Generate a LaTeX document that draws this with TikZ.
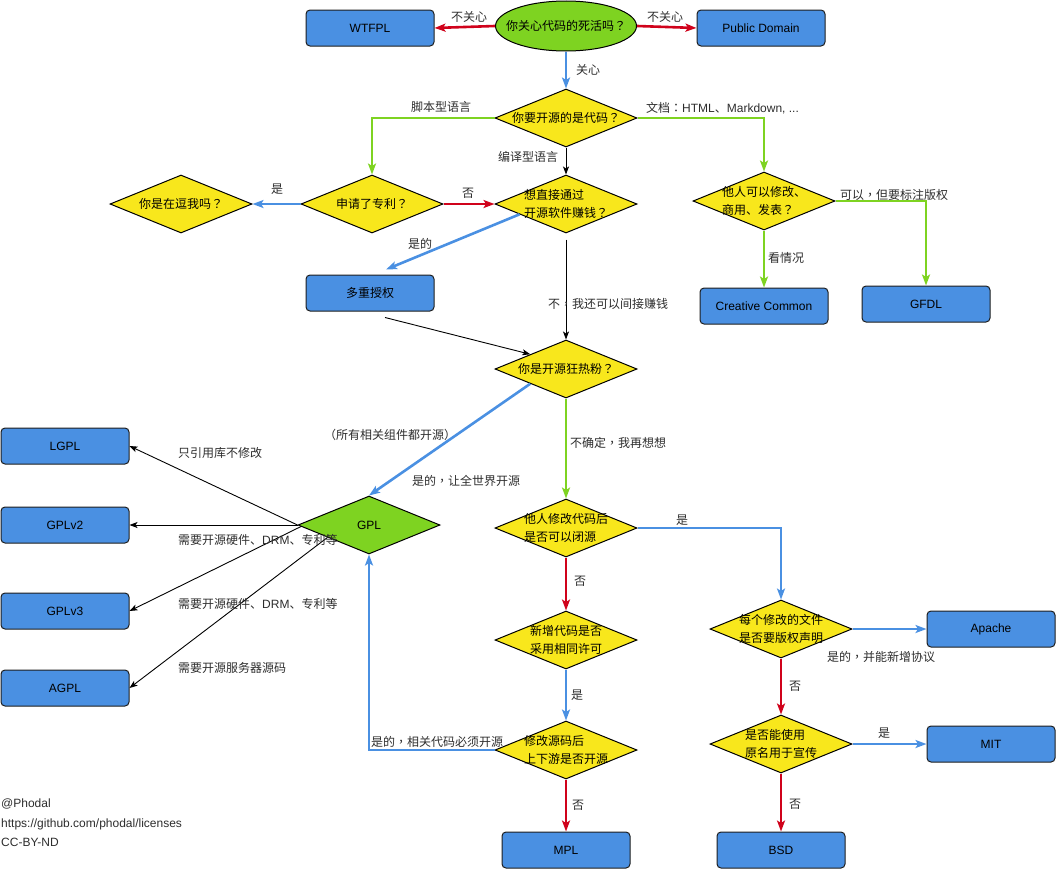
\documentclass[tikz,border=0pt]{standalone}
\usepackage{fontspec}
\setmainfont{Liberation Sans}
\newfontfamily\cjk{Noto Sans CJK SC}
\newfontfamily\cjktc{Noto Sans CJK TC}
\newcommand\qm{{\cjktc ？}}
\newcommand\cm{{\cjktc ，}}
\newcommand\cl{{\cjktc ：}}
\usetikzlibrary{shapes.geometric,arrows.meta,calc}
\definecolor{boxblue}{RGB}{74,144,226}
\definecolor{boxline}{RGB}{30,30,30}
\definecolor{dyel}{RGB}{248,231,28}
\definecolor{dgreen}{RGB}{126,211,33}
\definecolor{cred}{RGB}{208,2,27}
\definecolor{cblue}{RGB}{74,144,226}
\definecolor{lblc}{RGB}{45,45,45}
\newcommand\ztext[1]{\makebox[0pt]{\smash{\raisebox{-4pt}{\begin{tabular}{@{}l@{}}#1\end{tabular}}}}}
\begin{document}
\begin{tikzpicture}[x=1pt,y=-1pt,
 box/.style={draw=boxline,line width=1pt,fill=boxblue,rounded corners=4pt,minimum width=128pt,minimum height=36pt,inner sep=0pt,font=\fontsize{12}{14}\selectfont},
 dia/.style={diamond,draw=black,line width=1pt,fill=dyel,inner sep=0pt,minimum width=142pt,minimum height=58pt,font=\cjk\fontsize{12}{18}\selectfont},
 lbl/.style={font=\cjk\fontsize{12}{14}\selectfont,text=lblc,inner sep=0pt},
 tipc/.style={-{Stealth[length=11pt,width=8pt,inset=2.5pt]}},
 rl/.style={draw=cred,line width=2.6pt,tipc},
 bl/.style={draw=cblue,line width=2.6pt,tipc},
 gl/.style={draw=dgreen,line width=2.6pt,tipc},
 kl/.style={draw=black,line width=0.9pt,-{Stealth[length=8pt,width=6pt,inset=2pt]}},
 foot/.style={font=\fontsize{12}{14}\selectfont,text=lblc,inner sep=0pt,anchor=west},
]
\useasboundingbox (0,0) rectangle (1056,870);

% nodes
\node[ellipse,draw=black,line width=1pt,fill=dgreen,inner sep=0pt,minimum width=141pt,minimum height=50pt,font=\cjk\fontsize{12}{18}\selectfont] (q0) at (566,26) {\ztext{你关心代码的死活吗\qm}};
\node[box] (wtfpl) at (370,28) {WTFPL};
\node[box] (pd) at (761,28) {Public Domain};
\node[dia] (d1) at (566,118) {\ztext{你要开源的是代码\qm}};
\node[dia] (yousure) at (181,204) {\ztext{你是在逗我吗\qm}};
\node[dia] (patent) at (372,204) {\ztext{申请了专利\qm}};
\node[dia] (money) at (566,204) {\ztext{想直接通过\\开源软件赚钱\qm}};
\node[dia] (doc) at (764,201) {\ztext{他人可以修改、\\商用、发表\qm}};
\node[box] (multi) at (370,293) {{\cjk 多重授权}};
\node[box] (cc) at (764,306) {Creative Common};
\node[box] (gfdl) at (926,304) {GFDL};
\node[dia] (fan) at (566,369) {\ztext{你是开源狂热粉\qm}};
\node[dia,fill=dgreen,font=\fontsize{12}{18}\selectfont] (gpl) at (369,525) {\ztext{GPL}};
\node[box] (lgpl) at (65,446) {LGPL};
\node[box] (gplv2) at (65,525) {GPLv2};
\node[box] (gplv3) at (65,611) {GPLv3};
\node[box] (agpl) at (65,688) {AGPL};
\node[dia] (close) at (566,528) {\ztext{他人修改代码后\\是否可以闭源}};
\node[dia] (new) at (566,640) {\ztext{新增代码是否\\采用相同许可}};
\node[dia] (mod) at (566,750) {\ztext{修改源码后\\上下游是否开源}};
\node[box] (mpl) at (566,850) {MPL};
\node[dia] (file) at (781,629) {\ztext{每个修改的文件\\是否要版权声明}};
\node[dia] (name) at (781,744) {\ztext{是否能使用\\原名用于宣传}};
\node[box] (apache) at (991,629) {Apache};
\node[box] (mit) at (991,744) {MIT};
\node[box] (bsd) at (781,850) {BSD};

% connectors
\draw[rl] (q0.west) -- (wtfpl.east);
\draw[rl] (q0.east) -- (pd.west);
\draw[bl] (q0.south) -- (d1.north);
\draw[gl] (d1.west) -| (patent.north);
\draw[gl] (d1.east) -| (doc.north);
\draw[kl] (d1.south) -- (money.north);
\draw[bl] (patent.west) -- (yousure.east);
\draw[rl] (patent.east) -- (money.west);
\draw[bl] ($(money.west)!0.35!(money.south)$) -- ([xshift=16pt,yshift=5pt]multi.north);
\draw[kl] ([yshift=-6pt]money.south) -- (fan.north);
\draw[kl] ([xshift=15pt,yshift=-6pt]multi.south) -- (fan.north west);
\draw[gl] (doc.south) -- (cc.north);
\draw[gl] (doc.east) -| (gfdl.north);
\draw[bl] (fan.south west) -- (gpl.north);
\draw[gl] (fan.south) -- (close.north);
\draw[kl] (gpl.west) -- (lgpl.east);
\draw[kl] (gpl.west) -- (gplv2.east);
\draw[kl] ($(gpl.west)!0.05!(gpl.south)$) -- (gplv3.east);
\draw[kl] ($(gpl.west)!0.42!(gpl.south)$) -- (agpl.east);
\draw[bl] (close.east) -| (file.north);
\draw[rl] (close.south) -- (new.north);
\draw[bl] (new.south) -- (mod.north);
\draw[bl] (mod.west) -| (gpl.south);
\draw[rl] (mod.south) -- (mpl.north);
\draw[bl] (file.east) -- (apache.west);
\draw[rl] (file.south) -- (name.north);
\draw[bl] (name.east) -- (mit.west);
\draw[rl] (name.south) -- (bsd.north);

% labels
\node[lbl] (l1) at (469,17) {不关心};
\node[lbl] (l2) at (665,17) {不关心};
\node[lbl] (l3) at (588,70) {关心};
\node[lbl] (l4) at (441,107) {脚本型语言};
\node[lbl,anchor=west] (l5) at (646,108) {文档\cl{\rmfamily HTML}、{\rmfamily Markdown, ...}};
\node[lbl] (l6) at (528,157) {编译型语言};
\node[lbl] (l7) at (277,189) {是};
\node[lbl] (l8) at (468,193) {否};
\node[lbl] (l9) at (420,244) {是的};
\node[lbl,anchor=west] (l10) at (548,304) {不\cm 我还可以间接赚钱};
\node[lbl] (l11) at (786,258) {看情况};
\node[lbl,anchor=west] (l12) at (840,195) {可以\cm 但要标注版权};
\node[lbl] (l13) at (390,435) {（所有相关组件都开源）};
\node[lbl] (l14) at (466,481) {是的\cm 让全世界开源};
\node[lbl,anchor=west] (l15) at (570,443) {不确定\cm 我再想想};
\node[lbl] (l16) at (682,520) {是};
\node[lbl] (l17) at (580,581) {否};
\node[lbl] (l18) at (577,695) {是};
\node[lbl,anchor=west] (l19) at (371,742) {是的\cm 相关代码必须开源};
\node[lbl] (l20) at (578,805) {否};
\node[lbl] (l21) at (881,657) {是的\cm 并能新增协议};
\node[lbl] (l22) at (795,686) {否};
\node[lbl] (l23) at (884,733) {是};
\node[lbl] (l24) at (795,804) {否};
\node[lbl,anchor=west] (l25) at (178,453) {只引用库不修改};
\node[lbl,anchor=west] (l26) at (178,540) {需要开源硬件、{\rmfamily DRM}、专利等};
\node[lbl,anchor=west] (l27) at (178,604) {需要开源硬件、{\rmfamily DRM}、专利等};
\node[lbl,anchor=west] (l28) at (178,668) {需要开源服务器源码};

% footer
\node[foot] (f1) at (1,804) {@Phodal};
\node[foot] (f2) at (1,824) {https://github.com/phodal/licenses};
\node[foot] (f3) at (1,842) {CC-BY-ND};
\end{tikzpicture}
\end{document}
